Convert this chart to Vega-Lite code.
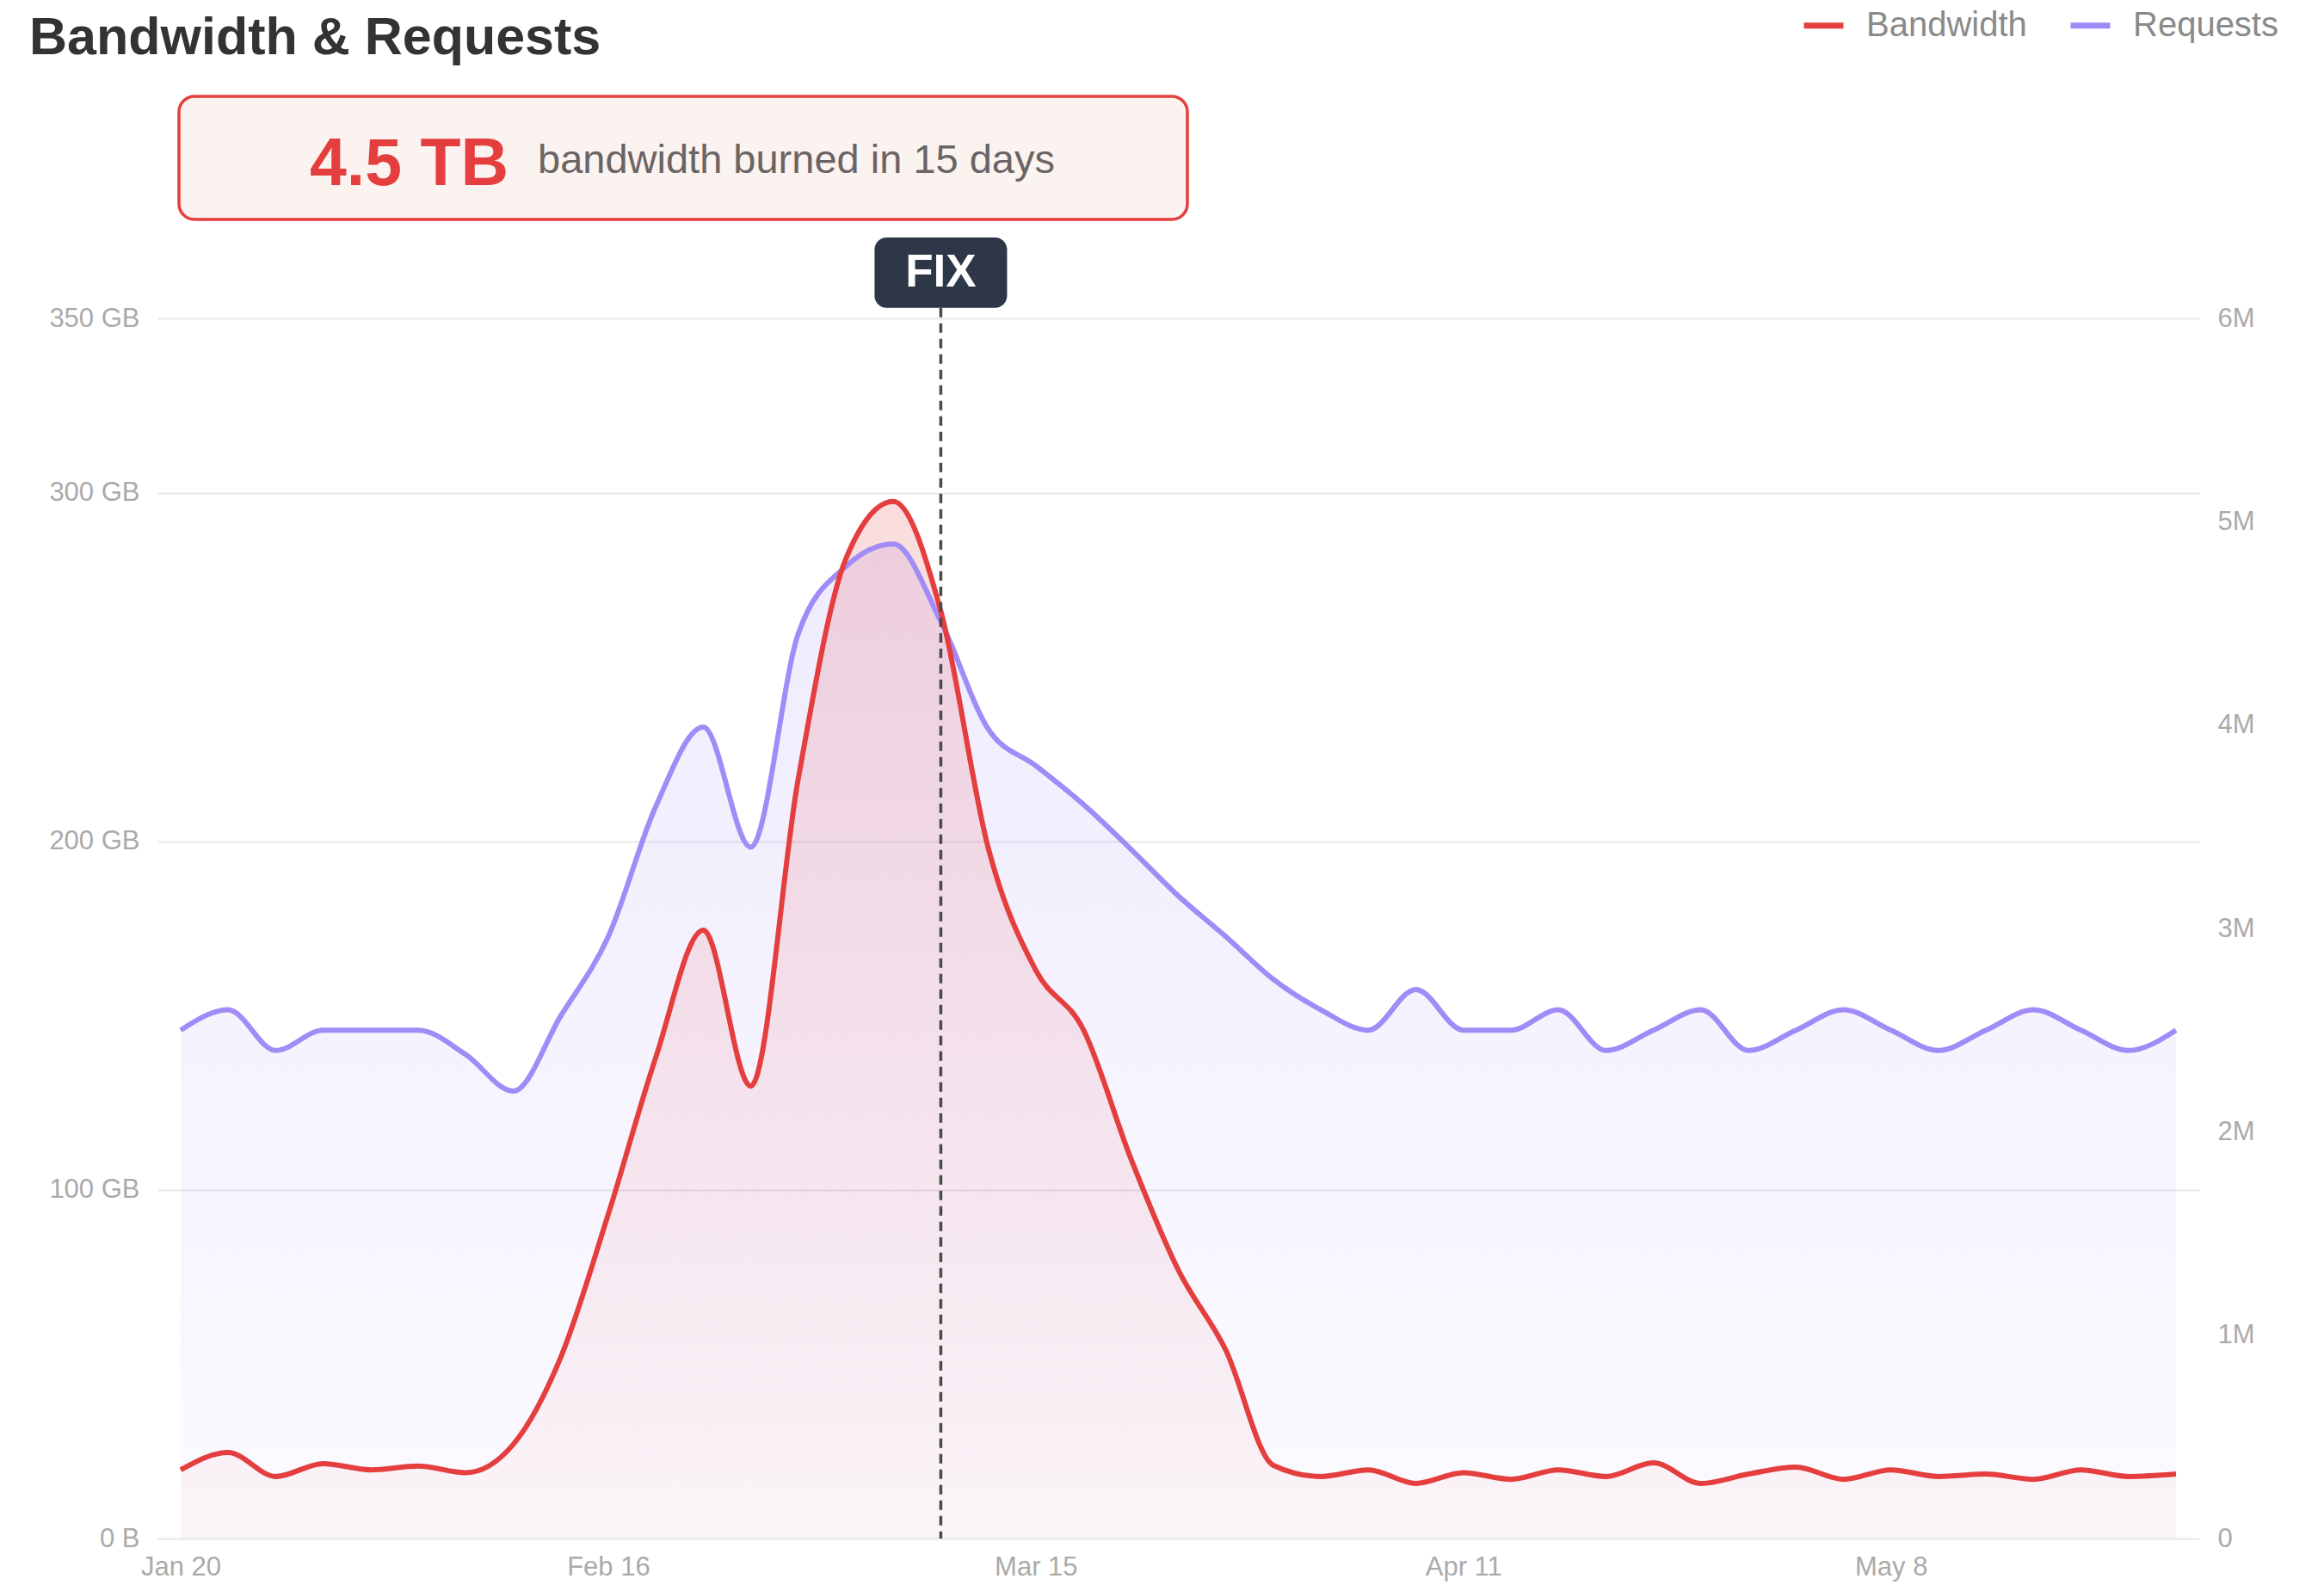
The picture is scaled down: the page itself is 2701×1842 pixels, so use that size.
{
  "$schema": "https://vega.github.io/schema/vega-lite/v6.json",
  "width": 2373,
  "height": 1418,
  "autosize": {"type": "none"},
  "padding": {"left": 183, "top": 370, "right": 145, "bottom": 54},
  "background": "white",
  "title": {
    "text": "Bandwidth & Requests",
    "anchor": "start",
    "frame": "group",
    "dx": -149,
    "dy": 63,
    "offset": -58,
    "baseline": "alphabetic",
    "font": "Liberation Sans",
    "fontSize": 61,
    "fontWeight": "bold",
    "color": "#333333"
  },
  "config": {
    "view": {"stroke": null},
    "font": "Liberation Sans",
    "legend": {
      "orient": "none",
      "legendX": 1910,
      "legendY": -367,
      "direction": "horizontal",
      "padding": 0,
      "symbolType": "stroke",
      "symbolSize": 2116,
      "symbolStrokeWidth": 7,
      "labelFontSize": 40,
      "labelFont": "Liberation Sans",
      "labelColor": "#8a8a8a",
      "labelOffset": 23,
      "labelLimit": 500,
      "columnPadding": 36
    }
  },
  "data": {
    "values": [
      {"date": "2025-01-20", "bandwidth": 19.7, "requests": 2500000},
      {"date": "2025-01-23", "bandwidth": 24.7, "requests": 2600000},
      {"date": "2025-01-26", "bandwidth": 17.8, "requests": 2400000},
      {"date": "2025-01-29", "bandwidth": 21.5, "requests": 2500000},
      {"date": "2025-02-01", "bandwidth": 19.7, "requests": 2500000},
      {"date": "2025-02-04", "bandwidth": 20.8, "requests": 2500000},
      {"date": "2025-02-07", "bandwidth": 18.9, "requests": 2380000},
      {"date": "2025-02-10", "bandwidth": 27, "requests": 2200000},
      {"date": "2025-02-13", "bandwidth": 52, "requests": 2570000},
      {"date": "2025-02-16", "bandwidth": 93, "requests": 2960000},
      {"date": "2025-02-19", "bandwidth": 138, "requests": 3600000},
      {"date": "2025-02-22", "bandwidth": 174.5, "requests": 3990000},
      {"date": "2025-02-25", "bandwidth": 129.8, "requests": 3400000},
      {"date": "2025-02-28", "bandwidth": 218, "requests": 4450000},
      {"date": "2025-03-03", "bandwidth": 281, "requests": 4780000},
      {"date": "2025-03-06", "bandwidth": 297.5, "requests": 4890000},
      {"date": "2025-03-09", "bandwidth": 266, "requests": 4510000},
      {"date": "2025-03-12", "bandwidth": 198, "requests": 3980000},
      {"date": "2025-03-15", "bandwidth": 163, "requests": 3800000},
      {"date": "2025-03-18", "bandwidth": 146, "requests": 3610000},
      {"date": "2025-03-21", "bandwidth": 109, "requests": 3390000},
      {"date": "2025-03-24", "bandwidth": 77, "requests": 3160000},
      {"date": "2025-03-27", "bandwidth": 54, "requests": 2960000},
      {"date": "2025-03-30", "bandwidth": 21, "requests": 2750000},
      {"date": "2025-04-02", "bandwidth": 17.8, "requests": 2600000},
      {"date": "2025-04-05", "bandwidth": 19.7, "requests": 2500000},
      {"date": "2025-04-08", "bandwidth": 15.8, "requests": 2700000},
      {"date": "2025-04-11", "bandwidth": 18.9, "requests": 2500000},
      {"date": "2025-04-14", "bandwidth": 17.0, "requests": 2500000},
      {"date": "2025-04-17", "bandwidth": 19.7, "requests": 2600000},
      {"date": "2025-04-20", "bandwidth": 17.8, "requests": 2400000},
      {"date": "2025-04-23", "bandwidth": 21.7, "requests": 2500000},
      {"date": "2025-04-26", "bandwidth": 15.8, "requests": 2600000},
      {"date": "2025-04-29", "bandwidth": 18.5, "requests": 2400000},
      {"date": "2025-05-02", "bandwidth": 20.5, "requests": 2500000},
      {"date": "2025-05-05", "bandwidth": 17.0, "requests": 2600000},
      {"date": "2025-05-08", "bandwidth": 19.7, "requests": 2500000},
      {"date": "2025-05-11", "bandwidth": 17.8, "requests": 2400000},
      {"date": "2025-05-14", "bandwidth": 18.5, "requests": 2500000},
      {"date": "2025-05-17", "bandwidth": 17.0, "requests": 2600000},
      {"date": "2025-05-20", "bandwidth": 19.7, "requests": 2500000},
      {"date": "2025-05-23", "bandwidth": 17.8, "requests": 2400000},
      {"date": "2025-05-26", "bandwidth": 18.5, "requests": 2500000}
    ]
  },
  "encoding": {
    "x": {
      "field": "date",
      "type": "temporal",
      "scale": {"type": "utc", "nice": false, "domain": [1737204451200, 1748344348800]},
      "axis": {
        "title": null,
        "values": [1737331200000, 1739664000000, 1741996800000, 1744329600000, 1746662400000],
        "labelExpr": "utcFormat(datum.value, '%b %-d')",
        "domain": false,
        "ticks": false,
        "grid": false,
        "labelFont": "Liberation Sans",
        "labelFontSize": 31,
        "labelColor": "#aaaaaa",
        "labelPadding": 18
      }
    }
  },
  "layer": [
    {
      "mark": {
        "type": "area",
        "interpolate": "monotone",
        "fill": {
          "gradient": "linear",
          "x1": 0, "y1": 0, "x2": 0, "y2": 1,
          "stops": [
            {"offset": 0, "color": "rgba(160,139,247,0.17)"},
            {"offset": 1, "color": "rgba(160,139,247,0.04)"}
          ]
        }
      },
      "encoding": {
        "y": {
          "field": "requests",
          "type": "quantitative",
          "scale": {"domain": [0, 6000000], "nice": false},
          "axis": {
            "orient": "right",
            "title": null,
            "values": [0, 1000000, 2000000, 3000000, 4000000, 5000000, 6000000],
            "labelExpr": "datum.value == 0 ? '0' : (datum.value / 1000000) + 'M'",
            "grid": false,
            "domain": false,
            "ticks": false,
            "labelPadding": 21,
            "labelFont": "Liberation Sans",
            "labelFontSize": 31,
            "labelColor": "#aaaaaa"
          }
        }
      }
    },
    {
      "mark": {
        "type": "area",
        "interpolate": "monotone",
        "fill": {
          "gradient": "linear",
          "x1": 0, "y1": 0, "x2": 0, "y2": 1,
          "stops": [
            {"offset": 0, "color": "rgba(229,62,62,0.18)"},
            {"offset": 1, "color": "rgba(229,62,62,0.03)"}
          ]
        }
      },
      "encoding": {
        "y": {
          "field": "bandwidth",
          "type": "quantitative",
          "scale": {"domain": [0, 350], "nice": false},
          "axis": {
            "orient": "left",
            "title": null,
            "values": [0, 100, 200, 300, 350],
            "labelExpr": "datum.value == 0 ? '0 B' : datum.value + ' GB'",
            "grid": true,
            "gridColor": "#e8e8e8",
            "gridWidth": 2,
            "domain": false,
            "ticks": false,
            "labelPadding": 21,
            "labelFont": "Liberation Sans",
            "labelFontSize": 31,
            "labelColor": "#aaaaaa"
          }
        }
      }
    },
    {
      "mark": {"type": "line", "interpolate": "monotone", "strokeWidth": 6},
      "encoding": {
        "y": {"field": "requests", "type": "quantitative", "scale": {"domain": [0, 6000000], "nice": false}, "axis": null},
        "color": {
          "datum": "Requests",
          "scale": {"domain": ["Bandwidth", "Requests"], "range": ["#e53e3e", "#a08bf7"]},
          "legend": {"title": null}
        }
      }
    },
    {
      "mark": {"type": "line", "interpolate": "monotone", "strokeWidth": 6},
      "encoding": {
        "y": {"field": "bandwidth", "type": "quantitative", "scale": {"domain": [0, 350], "nice": false}, "axis": null},
        "color": {"datum": "Bandwidth"}
      }
    },
    {
      "data": {"values": [{"date": "2025-03-09", "label": "FIX"}]},
      "mark": {"type": "rule", "stroke": "#4a4a4a", "strokeWidth": 3.5, "strokeDash": [11, 7]},
      "encoding": {
        "y": {"datum": 353, "type": "quantitative", "scale": {"domain": [0, 350], "nice": false}, "axis": null},
        "y2": {"datum": 0}
      }
    },
    {
      "data": {"values": [{"date": "2025-03-09", "label": "FIX"}]},
      "mark": {"type": "rect", "fill": "#2d3748", "cornerRadius": 14, "xOffset": -77, "x2Offset": 77},
      "encoding": {
        "x2": {"field": "date"},
        "y": {"datum": 373.2, "type": "quantitative", "scale": {"domain": [0, 350], "nice": false}, "axis": null},
        "y2": {"datum": 353}
      }
    },
    {
      "data": {"values": [{"date": "2025-03-09", "label": "FIX"}]},
      "mark": {"type": "text", "color": "#ffffff", "font": "Liberation Sans", "fontSize": 53, "fontWeight": "bold", "align": "center", "baseline": "middle"},
      "encoding": {
        "y": {"datum": 363.1, "type": "quantitative", "scale": {"domain": [0, 350], "nice": false}, "axis": null},
        "text": {"field": "label"}
      }
    },
    {
      "data": {"values": [{"date": "2025-01-20", "label": "summary"}]},
      "mark": {"type": "rect", "fill": "#fbf3f0", "stroke": "#e53e3e", "strokeWidth": 3.5, "cornerRadius": 18, "xOffset": -2, "x2Offset": 1170},
      "encoding": {
        "x2": {"field": "date"},
        "y": {"datum": 413.7, "type": "quantitative", "scale": {"domain": [0, 350], "nice": false}, "axis": null},
        "y2": {"datum": 378.4}
      }
    },
    {
      "data": {"values": [{"date": "2025-01-20", "label": "4.5 TB"}]},
      "mark": {"type": "text", "color": "#e53e3e", "font": "Liberation Sans", "fontSize": 77, "fontWeight": "bold", "align": "left", "baseline": "alphabetic", "xOffset": 150},
      "encoding": {
        "y": {"datum": 388.3, "type": "quantitative", "scale": {"domain": [0, 350], "nice": false}, "axis": null},
        "text": {"field": "label"}
      }
    },
    {
      "data": {"values": [{"date": "2025-01-20", "label": "bandwidth burned in 15 days"}]},
      "mark": {"type": "text", "color": "#6b6464", "font": "Liberation Sans", "fontSize": 47, "align": "left", "baseline": "alphabetic", "xOffset": 415},
      "encoding": {
        "y": {"datum": 391.6, "type": "quantitative", "scale": {"domain": [0, 350], "nice": false}, "axis": null},
        "text": {"field": "label"}
      }
    }
  ],
  "resolve": {"scale": {"y": "independent"}}
}
